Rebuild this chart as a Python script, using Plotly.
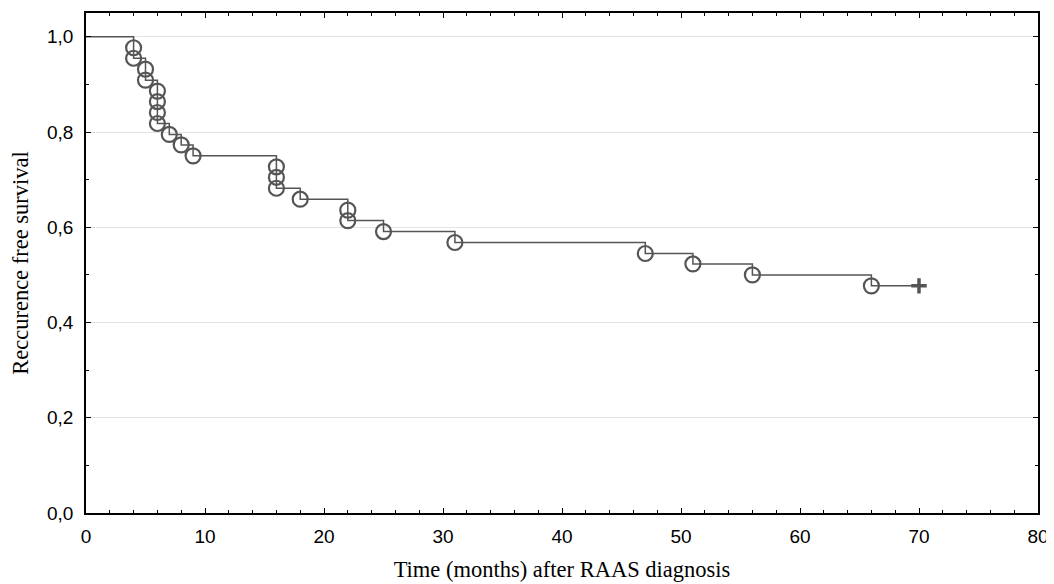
import plotly.graph_objects as go

# Event (recurrence) times and survival estimates after each event
event_times = [4, 4, 5, 5, 6, 6, 6, 6, 7, 8, 9, 16, 16, 16, 18, 22, 22, 25, 31, 47, 51, 56, 66]
event_surv = [0.977, 0.955, 0.932, 0.909, 0.886, 0.864, 0.841, 0.818, 0.795, 0.773, 0.750,
              0.727, 0.705, 0.682, 0.659, 0.636, 0.614, 0.591, 0.568, 0.545, 0.523, 0.500, 0.477]

# Step curve vertices (time, survival level after step)
step_times = [0, 4, 5, 6, 7, 8, 9, 16, 18, 22, 25, 31, 47, 51, 56, 66, 70]
step_surv = [1.0, 0.955, 0.909, 0.818, 0.795, 0.773, 0.750, 0.682, 0.659, 0.614, 0.591,
             0.568, 0.545, 0.523, 0.500, 0.477, 0.477]

# Censored observation
cens_times = [70]
cens_surv = [0.477]

x_ticks = [0, 10, 20, 30, 40, 50, 60, 70, 80]
y_ticks = [0.0, 0.2, 0.4, 0.6, 0.8, 1.0]

col = "#555555"
serif = "Liberation Serif, Times New Roman, serif"

fig = go.Figure()
fig.add_trace(go.Scatter(x=step_times, y=step_surv, mode="lines",
                         line=dict(color=col, width=1.5, shape="hv"),
                         hoverinfo="skip", showlegend=False))
fig.add_trace(go.Scatter(x=event_times, y=event_surv, mode="markers",
                         marker=dict(symbol="circle-open", size=15,
                                     line=dict(color=col, width=2.2), color=col),
                         showlegend=False))
fig.add_trace(go.Scatter(x=cens_times, y=cens_surv, mode="markers",
                         marker=dict(symbol="cross-thin", size=11,
                                     line=dict(color=col, width=3.5), color=col),
                         showlegend=False))

fig.update_layout(
    width=1054, height=584,
    margin=dict(l=78, r=24, t=3, b=79),
    paper_bgcolor="white", plot_bgcolor="white",
    separators=", ",
    font=dict(family="Liberation Sans, Arial, sans-serif", size=19, color="black"),
    xaxis=dict(range=[0, 80], tickvals=x_ticks, ticks="inside", ticklen=5, tickwidth=1,
               tickcolor="black", showline=True, linecolor="black", linewidth=1.5,
               mirror="ticks", showgrid=False, zeroline=False, ticklabelstandoff=5,
               minor=dict(dtick=2, ticks="inside", ticklen=3, tickcolor="black", showgrid=False),
               title=dict(text="Time (months) after RAAS diagnosis",
                          font=dict(family=serif, size=22.5), standoff=16)),
    yaxis=dict(range=[0, 1.05], tickvals=y_ticks, tickformat=".1f", ticks="inside", ticklen=5,
               tickwidth=1, tickcolor="black", showline=True, linecolor="black", linewidth=1.5,
               mirror="ticks", showgrid=True, gridcolor="#e3e3e3", gridwidth=1, zeroline=False,
               ticklabelstandoff=7,
               minor=dict(dtick=0.1, ticks="inside", ticklen=3, tickcolor="black", showgrid=False),
               title=dict(text="Reccurence free survival",
                          font=dict(family=serif, size=22.5), standoff=12)),
)

fig.write_html("out.html")
